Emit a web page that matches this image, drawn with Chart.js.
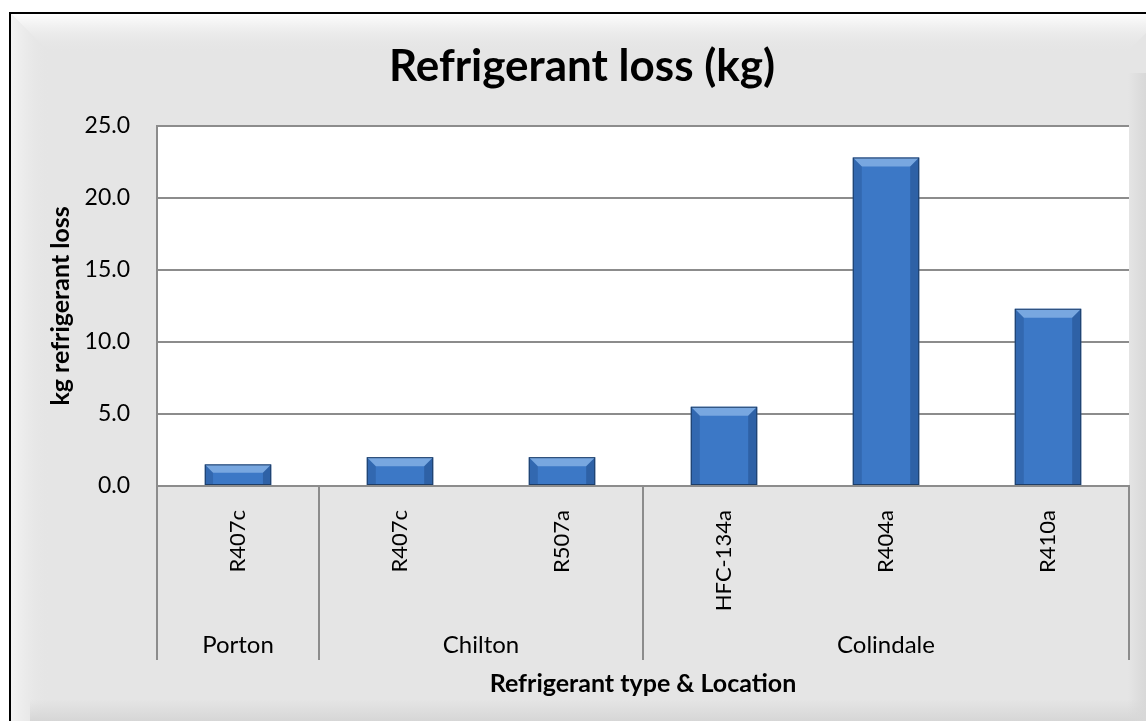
<!DOCTYPE html>
<html lang="en">
  <head>
    <meta charset="UTF-8" />
    <title>Refrigerant loss (kg)</title>
    <script src="https://cdn.jsdelivr.net/npm/chart.js"></script>
    <style>
      html, body { margin: 0; padding: 0; background: #ffffff; overflow: hidden; }
      #wrap { width: 1146px; height: 721px; }
    </style>
  </head>
  <body>
    <div id="wrap">
      <canvas id="lossChart" width="1146" height="721"></canvas>
    </div>

    <script>
      // Data
      const refrigerantTypes = ["R407c", "R407c", "R507a", "HFC-134a", "R404a", "R410a"];
      const locations = ["Porton", "Chilton", "Colindale"];
      const locationSizes = [1, 2, 3];
      const lossKg = [1.5, 2.0, 2.0, 5.5, 22.8, 12.3];
      const yMin = 0, yMax = 25, yStep = 5;

      const FONT = "Lato, 'Open Sans', sans-serif";
      const GRID = "#8c8c8c";

      // Frame with bevelled grey background, white plot area
      const framePlugin = {
        id: "frame",
        beforeDraw(chart) {
          const { ctx, width, height, chartArea } = chart;
          const x0 = 10, y0 = 13, b = 40;
          ctx.save();
          ctx.fillStyle = "#e5e5e5";
          ctx.fillRect(x0, y0, width - x0, height - y0);

          // top bevel
          let g = ctx.createLinearGradient(0, y0, 0, y0 + b);
          g.addColorStop(0, "#ffffff");
          g.addColorStop(1, "rgba(229,229,229,0)");
          ctx.fillStyle = g;
          ctx.beginPath();
          ctx.moveTo(x0, y0);
          ctx.lineTo(width + 20, y0);
          ctx.lineTo(width + 20 - b, y0 + b);
          ctx.lineTo(x0 + b, y0 + b);
          ctx.closePath();
          ctx.fill();

          // left bevel
          g = ctx.createLinearGradient(x0, 0, x0 + b, 0);
          g.addColorStop(0, "#f4f4f4");
          g.addColorStop(1, "rgba(229,229,229,0)");
          ctx.fillStyle = g;
          ctx.beginPath();
          ctx.moveTo(x0, y0);
          ctx.lineTo(x0 + b, y0 + b);
          ctx.lineTo(x0 + b, height + 20 - b);
          ctx.lineTo(x0, height + 20);
          ctx.closePath();
          ctx.fill();

          // bottom bevel
          g = ctx.createLinearGradient(0, height - 22, 0, height);
          g.addColorStop(0, "rgba(215,215,215,0)");
          g.addColorStop(1, "#d6d6d6");
          ctx.fillStyle = g;
          ctx.fillRect(x0 + 20, height - 22, width, 22);

          // right bevel
          g = ctx.createLinearGradient(width - 18, 0, width, 0);
          g.addColorStop(0, "rgba(215,215,215,0)");
          g.addColorStop(1, "#d8d8d8");
          ctx.fillStyle = g;
          ctx.fillRect(width - 18, y0 + 60, 18, height);

          // outer border
          ctx.strokeStyle = "#000000";
          ctx.lineWidth = 2;
          ctx.beginPath();
          ctx.moveTo(x0, height + 5);
          ctx.lineTo(x0, y0);
          ctx.lineTo(width + 5, y0);
          ctx.stroke();

          // plot area
          ctx.fillStyle = "#ffffff";
          ctx.fillRect(chartArea.left, chartArea.top,
                       chartArea.right - chartArea.left, chartArea.bottom - chartArea.top);
          ctx.restore();
        }
      };

      // Bevel highlights on the bars
      const bevelPlugin = {
        id: "bevel",
        afterDatasetsDraw(chart) {
          const { ctx } = chart;
          const meta = chart.getDatasetMeta(0);
          ctx.save();
          meta.data.forEach((bar) => {
            const l = bar.x - bar.width / 2, r = bar.x + bar.width / 2;
            const t = Math.min(bar.y, bar.base), bt = Math.max(bar.y, bar.base);
            const s = Math.min(9, (bt - t) / 2.5);
            // top
            ctx.fillStyle = "rgba(170,205,245,0.55)";
            ctx.beginPath();
            ctx.moveTo(l, t); ctx.lineTo(r, t); ctx.lineTo(r - s, t + s); ctx.lineTo(l + s, t + s);
            ctx.closePath(); ctx.fill();
            // left
            ctx.fillStyle = "rgba(20,50,100,0.22)";
            ctx.beginPath();
            ctx.moveTo(l, t); ctx.lineTo(l + s, t + s); ctx.lineTo(l + s, bt); ctx.lineTo(l, bt);
            ctx.closePath(); ctx.fill();
            // right
            ctx.fillStyle = "rgba(20,50,100,0.32)";
            ctx.beginPath();
            ctx.moveTo(r, t); ctx.lineTo(r - s, t + s); ctx.lineTo(r - s, bt); ctx.lineTo(r, bt);
            ctx.closePath(); ctx.fill();
            // outline
            ctx.strokeStyle = "#1e3d66";
            ctx.lineWidth = 1;
            ctx.strokeRect(l + 0.5, t + 0.5, r - l - 1, bt - t - 1);
          });
          ctx.restore();
        }
      };

      // Second level of the category axis: locations with separators
      const groupPlugin = {
        id: "groups",
        afterDraw(chart) {
          const { ctx } = chart;
          const x = chart.scales.x;
          const slot = (x.right - x.left) / refrigerantTypes.length;
          const yTop = x.top, yBot = x.top + 174;
          ctx.save();
          ctx.strokeStyle = GRID;
          ctx.lineWidth = 2;
          let idx = 0;
          const edges = [x.left];
          locations.forEach((name, i) => {
            const start = idx;
            idx += locationSizes[i];
            const from = x.getPixelForValue(start) - slot / 2;
            const to = x.getPixelForValue(idx - 1) + slot / 2;
            edges.push(to);
            ctx.fillStyle = "#000000";
            ctx.font = "24px " + FONT;
            ctx.textAlign = "center";
            ctx.textBaseline = "alphabetic";
            ctx.fillText(name, (from + to) / 2, yTop + 167);
          });
          edges.forEach((ex) => {
            ctx.beginPath();
            ctx.moveTo(Math.round(ex), yTop);
            ctx.lineTo(Math.round(ex), yBot);
            ctx.stroke();
          });
          ctx.restore();
        }
      };

      const ctx = document.getElementById("lossChart").getContext("2d");
      const lossChart = new Chart(ctx, {
        type: "bar",
        data: {
          labels: refrigerantTypes,
          datasets: [
            {
              label: "kg refrigerant loss",
              data: lossKg,
              backgroundColor: function (context) {
                const el = context.element;
                if (!el || el.width === undefined) return "#3c78c6";
                const c = context.chart.ctx;
                const l = el.x - el.width / 2;
                const g = c.createLinearGradient(l, 0, l + el.width, 0);
                g.addColorStop(0, "#3a74c2");
                g.addColorStop(0.35, "#4383d3");
                g.addColorStop(1, "#3b74c0");
                return g;
              },
              borderWidth: 0,
              categoryPercentage: 1.0,
              barPercentage: 0.41,
            },
          ],
        },
        options: {
          responsive: false,
          animation: false,
          layout: { padding: { left: 35, right: 17, top: 0, bottom: 0 } },
          plugins: {
            legend: { display: false },
            tooltip: { enabled: false },
            title: {
              display: true,
              text: "Refrigerant loss (kg)",
              color: "#000000",
              font: { family: FONT, size: 44, weight: "bold" },
              padding: { top: 40, bottom: 33 },
            },
          },
          scales: {
            x: {
              grid: { display: false },
              border: { display: true, color: GRID, width: 2 },
              ticks: {
                color: "#000000",
                font: { family: FONT, size: 22 },
                minRotation: 90,
                maxRotation: 90,
                padding: 16,
              },
              title: {
                display: true,
                text: "Refrigerant type & Location",
                color: "#000000",
                font: { family: FONT, size: 25, weight: "bold" },
                padding: { top: 0, bottom: 22 },
              },
              afterFit(scale) { scale.height = 235; },
            },
            y: {
              min: yMin,
              max: yMax,
              grid: { color: GRID, lineWidth: 2, drawTicks: false },
              border: { display: true, color: GRID, width: 2 },
              ticks: {
                stepSize: yStep,
                color: "#000000",
                font: { family: FONT, size: 23 },
                padding: 27,
                callback: (v) => Number(v).toFixed(1),
              },
              title: {
                display: true,
                text: "kg refrigerant loss",
                color: "#000000",
                font: { family: FONT, size: 25, weight: "bold" },
                padding: { top: 11, bottom: 0 },
              },
              afterFit(scale) { scale.width = 122; },
            },
          },
        },
        plugins: [framePlugin, bevelPlugin, groupPlugin],
      });
    </script>
  </body>
</html>
